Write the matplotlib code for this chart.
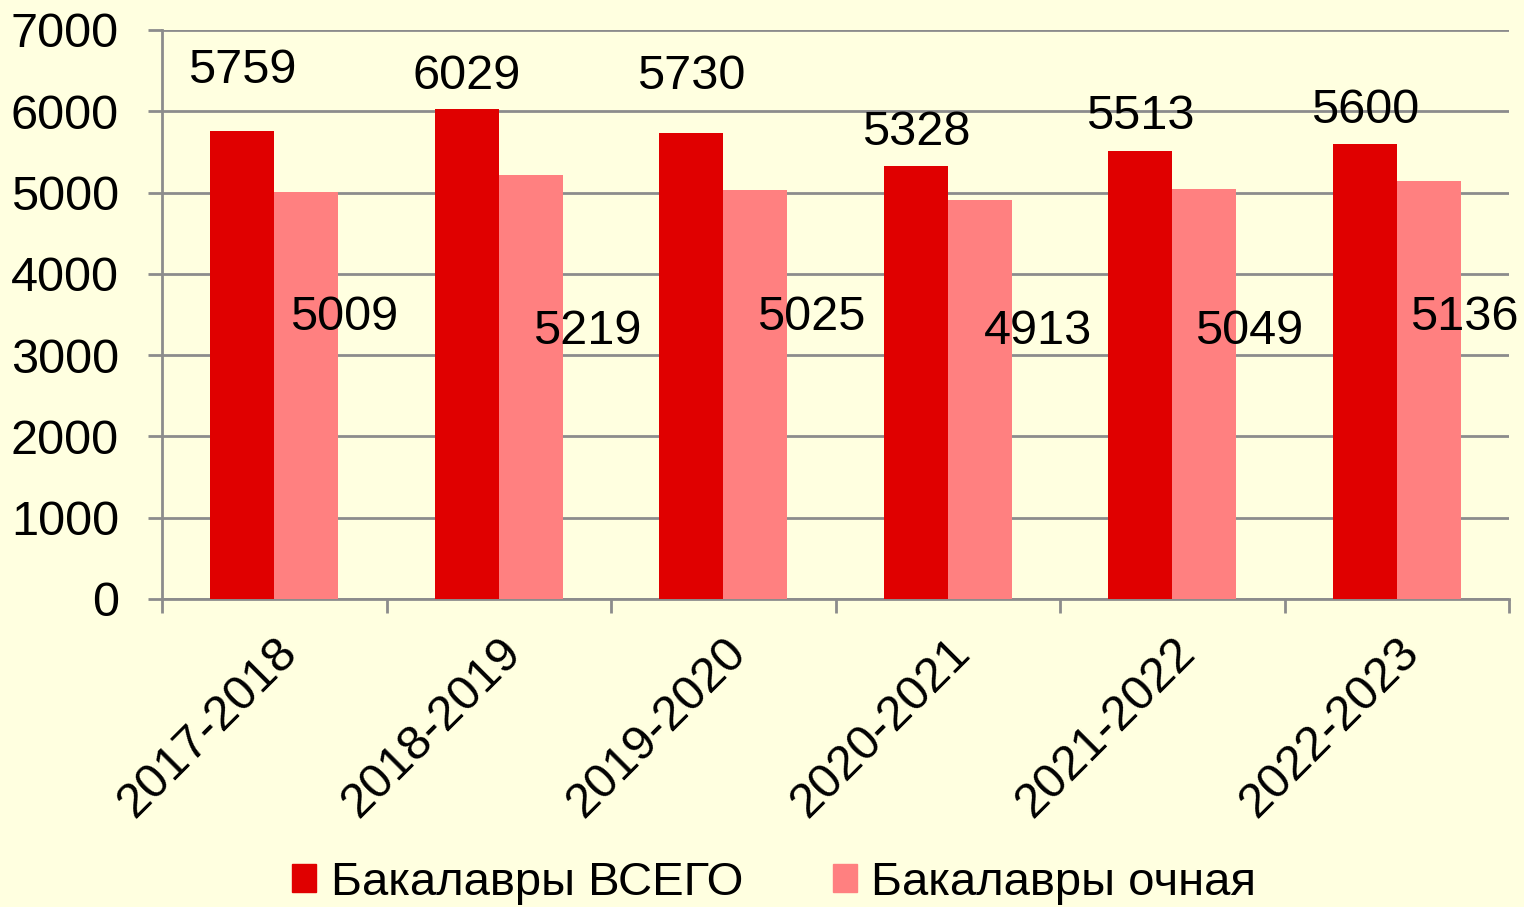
import numpy as np
import matplotlib.pyplot as plt
import matplotlib.transforms as mtransforms
from matplotlib.patches import Patch

# data
years = ['2017-2018', '2018-2019', '2019-2020', '2020-2021', '2021-2022', '2022-2023']
total = [5759, 6029, 5730, 5328, 5513, 5600]
fulltime = [5009, 5219, 5025, 4913, 5049, 5136]

# where the value labels sit (they were moved by hand in the original)
total_lbl_y = [6495, 6433, 6421, 5744, 5929, 6015]
full_lbl_y = [3468, 3296, 3468, 3296, 3296, 3468]
full_lbl_dx = [0.17, 0.25, 0.25, 0.26, 0.20, 0.16]

plt.rcParams['font.family'] = ['Liberation Sans', 'DejaVu Sans']

bg = '#FFFFE0'
red = '#E00000'
pink = '#FF8080'
grid = '#8C8C8C'
fs = 35

fig = plt.figure(figsize=(15.24, 9.07), dpi=100, facecolor=bg)
ax = fig.add_axes([0.1063, 0.3396, 0.8839, 0.6274])
ax.set_facecolor(bg)

x = np.arange(len(years))
w = 0.285
ax.bar(x - w / 2, total, w, color=red, zorder=3)
ax.bar(x + w / 2, fulltime, w, color=pink, zorder=3)

for i in range(len(years)):
    ax.text(x[i] - w / 2, total_lbl_y[i], str(total[i]), ha='center', va='center', fontsize=fs, zorder=4)
    ax.text(x[i] + w / 2 + full_lbl_dx[i], full_lbl_y[i], str(fulltime[i]), ha='center', va='center', fontsize=fs, zorder=4)

ax.set_xlim(-0.5, len(years) - 0.5)
ax.set_ylim(0, 7000)
ax.set_yticks(range(0, 7001, 1000))
ax.yaxis.grid(True, color=grid, linewidth=2, zorder=0)

ax.set_xticks(x)
ax.set_xticklabels(years, rotation=45, ha='right', rotation_mode='anchor', fontsize=fs)
shift = mtransforms.ScaledTranslation(-0.12, -0.04, fig.dpi_scale_trans)
for lbl in ax.get_xticklabels():
    lbl.set_transform(lbl.get_transform() + shift)
ax.set_xticks(np.arange(-0.5, len(years)), minor=True)
ax.tick_params(axis='x', which='major', length=0, pad=22)
ax.tick_params(axis='x', which='minor', length=10, width=2, color=grid, direction='out')
ax.tick_params(axis='y', length=10, width=2, color=grid, labelsize=fs, pad=21)

for s in ['top', 'right']:
    ax.spines[s].set_visible(False)
for s in ['left', 'bottom']:
    ax.spines[s].set_color(grid)
    ax.spines[s].set_linewidth(2)

handles = [Patch(color=red), Patch(color=pink)]
fig.legend(handles, ['Бакалавры ВСЕГО', 'Бакалавры очная'], loc='center', bbox_to_anchor=(0.508, 0.027),
           ncol=2, frameon=False, fontsize=34, handlelength=0.52, handleheight=0.52,
           handletextpad=0.3, columnspacing=1.9)

fig.savefig('out.png', dpi=100, facecolor=bg)
